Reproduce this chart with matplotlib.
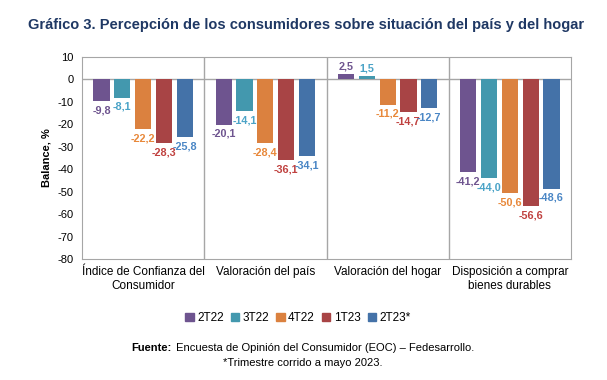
import matplotlib
matplotlib.use("Agg")
import matplotlib.pyplot as plt
import numpy as np

plt.rcParams['font.family'] = ['Liberation Sans', 'DejaVu Sans']

categories = ["Índice de Confianza del\nConsumidor", "Valoración del país",
              "Valoración del hogar", "Disposición a comprar\nbienes durables"]
series = ["2T22", "3T22", "4T22", "1T23", "2T23*"]
values = {
    "2T22": [-9.8, -20.1, 2.5, -41.2],
    "3T22": [-8.1, -14.1, 1.5, -44.0],
    "4T22": [-22.2, -28.4, -11.2, -50.6],
    "1T23": [-28.3, -36.1, -14.7, -56.6],
    "2T23*": [-25.8, -34.1, -12.7, -48.6],
}
colors = ["#6E548F", "#4398AE", "#DB813F", "#A84445", "#4472A8"]
label_colors = ["#6E548F", "#4AA3C7", "#E8883A", "#C0413F", "#4A86C5"]
yticks = [10, 0, -10, -20, -30, -40, -50, -60, -70, -80]

fig = plt.figure(figsize=(6.07, 3.80), dpi=100)
ax = fig.add_axes([82/607, 1-259/380, (571-82)/607, (259-57)/380])

n = len(series)
slot = 0.85 / n
bw = slot * 0.78
x = np.arange(len(categories))
for i, s in enumerate(series):
    xs = x - 0.425 + slot * (i + 0.5)
    ax.bar(xs, values[s], width=bw, color=colors[i], zorder=3)
    for xi, v in zip(xs, values[s]):
        txt = f"{v:.1f}".replace(".", ",")
        if v >= 0:
            ax.annotate(txt, (xi, v), xytext=(0, 2), textcoords="offset points",
                        ha="center", va="bottom", fontsize=7.8, fontweight="bold",
                        color=label_colors[i])
        else:
            ax.annotate(txt, (xi, v), xytext=(0, -3), textcoords="offset points",
                        ha="center", va="top", fontsize=7.8, fontweight="bold",
                        color=label_colors[i])

ax.set_xlim(-0.5, len(categories) - 0.5)
ax.set_ylim(-80, 10)
ax.set_yticks(yticks)
ax.set_yticklabels([str(t) for t in yticks], fontsize=8)
ax.axhline(0, color="#A6A6A6", lw=1, zorder=2)
for b in np.arange(0.5, len(categories) - 0.5, 1):
    ax.axvline(b, color="#A6A6A6", lw=1, zorder=1)
for sp in ax.spines.values():
    sp.set_color("#A6A6A6")
ax.tick_params(axis="y", length=0, pad=6)
ax.set_xticks(x)
ax.set_xticklabels(categories, fontsize=8.5)
ax.tick_params(axis="x", length=0, pad=5)
ax.set_ylabel("Balance, %", fontsize=8, fontweight="bold")

handles = [plt.Rectangle((0, 0), 1, 1, color=c) for c in colors]
fig.legend(handles, series, loc="center", bbox_to_anchor=(298/607, 1-318/380),
           ncol=5, frameon=False, fontsize=8.5, handlelength=0.7, handleheight=0.7,
           handletextpad=0.3, columnspacing=0.6)

fig.text(28/607, 1-25/380,
         "Gráfico 3. Percepción de los consumidores sobre situación del país y del hogar",
         fontsize=10.5, fontweight="bold", color="#1F3864", va="center", ha="left")

# Footnote: bold "Fuente:" followed by regular text, centered as a whole
renderer = fig.canvas.get_renderer()
t1 = fig.text(0, 1-348/380, "Fuente:", fontsize=8, fontweight="bold",
              ha="left", va="center")
t2 = fig.text(0, 1-348/380, " Encuesta de Opinión del Consumidor (EOC) – Fedesarrollo.",
              fontsize=8, ha="left", va="center")
w1 = t1.get_window_extent(renderer).width
w2 = t2.get_window_extent(renderer).width
gap = 1
start = 303 - (w1 + gap + w2) / 2
t1.set_x(start / 607)
t2.set_x((start + w1 + gap) / 607)
fig.text(303/607, 1-363/380, "*Trimestre corrido a mayo 2023.", fontsize=8,
         ha="center", va="center")

fig.savefig("out.png", dpi=100)
